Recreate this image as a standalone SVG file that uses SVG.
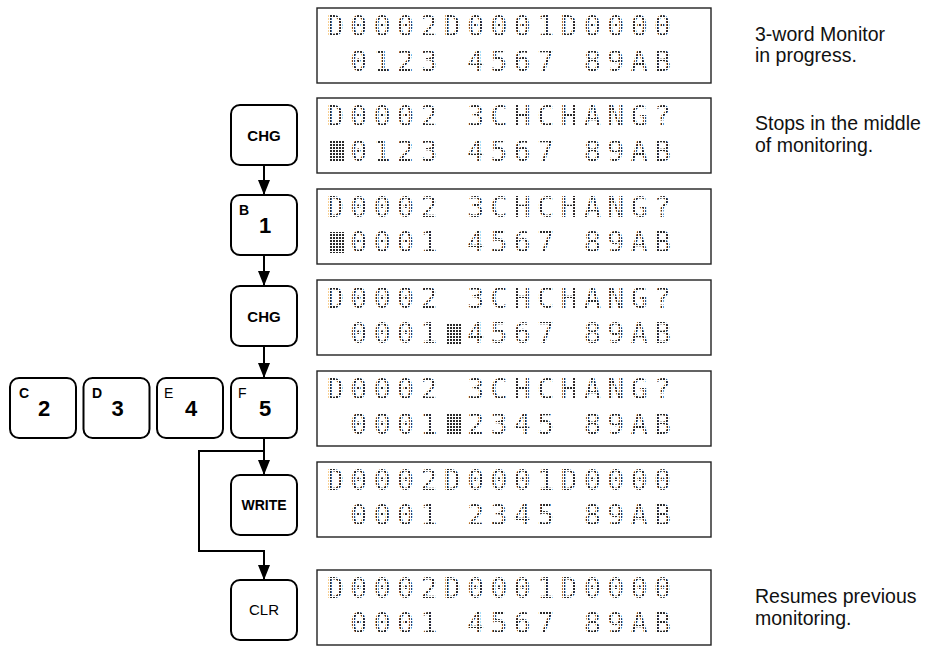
<svg xmlns="http://www.w3.org/2000/svg" width="937" height="646" viewBox="0 0 937 646">
<style>
.lcd{fill:#fff;stroke:#222;stroke-width:1.4}
.lt{font-family:"DejaVu Sans Mono","Liberation Mono",monospace;font-size:28px;letter-spacing:6.5px;fill:url(#dots);white-space:pre}
.key{fill:#fff;stroke:#000;stroke-width:2}
.kb{font-family:"Liberation Sans",Arial,sans-serif;font-weight:bold;fill:#000;text-anchor:middle}
.kr{font-family:"Liberation Sans",Arial,sans-serif;fill:#000;text-anchor:middle}
.sm{font-family:"Liberation Sans",Arial,sans-serif;font-size:14px;font-weight:bold;fill:#000}
.smr{font-family:"Liberation Sans",Arial,sans-serif;font-size:14px;fill:#000}
.dg{font-family:"Liberation Sans",Arial,sans-serif;font-size:22px;font-weight:bold;fill:#000;text-anchor:middle}
.note{font-family:"Liberation Sans",Arial,sans-serif;font-size:19.5px;fill:#111}
.con{fill:none;stroke:#000;stroke-width:2}
.cur{fill:url(#dots)}
</style>
<defs>
<pattern id="dots" patternUnits="userSpaceOnUse" width="3" height="3" x="0" y="0">
<rect x="0" y="0" width="2" height="2" fill="#2a2a2a"/>
</pattern>
<marker id="ah" viewBox="0 0 15 12" refX="15" refY="6" markerWidth="15" markerHeight="12" markerUnits="userSpaceOnUse" orient="auto">
<path d="M0,0 L15,6 L0,12 z" fill="#000"/>
</marker>
</defs>

<g id="lcd1">
<rect class="lcd" x="317" y="8" width="394" height="75"/>
<text class="lt" x="327" y="36" xml:space="preserve">D0002D0001D0000</text>
<text class="lt" x="327" y="71" xml:space="preserve"> 0123 4567 89AB</text>
</g>
<g id="lcd2">
<rect class="lcd" x="317" y="98" width="394" height="75"/>
<text class="lt" x="327" y="126" xml:space="preserve">D0002 3CHCHANG?</text>
<rect class="cur" x="330" y="141" width="15" height="21"/>
<text class="lt" x="327" y="161" xml:space="preserve"> 0123 4567 89AB</text>
</g>
<g id="lcd3">
<rect class="lcd" x="317" y="189" width="394" height="75"/>
<text class="lt" x="327" y="217" xml:space="preserve">D0002 3CHCHANG?</text>
<rect class="cur" x="330" y="232" width="15" height="21"/>
<text class="lt" x="327" y="252" xml:space="preserve"> 0001 4567 89AB</text>
</g>
<g id="lcd4">
<rect class="lcd" x="317" y="280" width="394" height="75"/>
<text class="lt" x="327" y="308" xml:space="preserve">D0002 3CHCHANG?</text>
<rect class="cur" x="447" y="323" width="15" height="21"/>
<text class="lt" x="327" y="343" xml:space="preserve"> 0001 4567 89AB</text>
</g>
<g id="lcd5">
<rect class="lcd" x="317" y="371" width="394" height="75"/>
<text class="lt" x="327" y="399" xml:space="preserve">D0002 3CHCHANG?</text>
<rect class="cur" x="447" y="414" width="15" height="21"/>
<text class="lt" x="327" y="434" xml:space="preserve"> 0001 2345 89AB</text>
</g>
<g id="lcd6">
<rect class="lcd" x="317" y="462" width="394" height="75"/>
<text class="lt" x="327" y="490" xml:space="preserve">D0002D0001D0000</text>
<text class="lt" x="327" y="525" xml:space="preserve"> 0001 2345 89AB</text>
</g>
<g id="lcd7">
<rect class="lcd" x="317" y="570" width="394" height="75"/>
<text class="lt" x="327" y="598" xml:space="preserve">D0002D0001D0000</text>
<text class="lt" x="327" y="633" xml:space="preserve"> 0001 4567 89AB</text>
</g>

<g id="notes">
<text class="note" x="755" y="41">3-word Monitor</text>
<text class="note" x="755" y="62">in progress.</text>
<text class="note" x="755" y="130">Stops in the middle</text>
<text class="note" x="755" y="152">of monitoring.</text>
<text class="note" x="755" y="603">Resumes previous</text>
<text class="note" x="755" y="625">monitoring.</text>
</g>

<g id="key-chg1">
<rect class="key" x="231" y="105" width="66" height="60" rx="9"/>
<text class="kb" x="264" y="141" font-size="15">CHG</text>
</g>
<g id="key-b1">
<rect class="key" x="231" y="195" width="66" height="60" rx="9"/>
<text class="sm" x="239" y="215">B</text>
<text class="dg" x="265" y="233">1</text>
</g>
<g id="key-chg2">
<rect class="key" x="231" y="286" width="66" height="60" rx="9"/>
<text class="kb" x="264" y="322" font-size="15">CHG</text>
</g>
<g id="key-c2">
<rect class="key" x="10" y="378" width="66" height="60" rx="9"/>
<text class="sm" x="19" y="398">C</text>
<text class="dg" x="44" y="416">2</text>
</g>
<g id="key-d3">
<rect class="key" x="83.5" y="378" width="66" height="60" rx="9"/>
<text class="sm" x="92" y="398">D</text>
<text class="dg" x="117.5" y="416">3</text>
</g>
<g id="key-e4">
<rect class="key" x="157" y="378" width="66" height="60" rx="9"/>
<text class="smr" x="164" y="398">E</text>
<text class="dg" x="191" y="416">4</text>
</g>
<g id="key-f5">
<rect class="key" x="231" y="378" width="66" height="60" rx="9"/>
<text class="smr" x="238" y="398">F</text>
<text class="dg" x="265" y="416">5</text>
</g>
<g id="key-write">
<rect class="key" x="231" y="475" width="66" height="60" rx="9"/>
<text class="kb" x="264" y="510" font-size="14">WRITE</text>
</g>
<g id="key-clr">
<rect class="key" x="231" y="580" width="66" height="60" rx="9"/>
<text class="kr" x="264" y="615" font-size="15">CLR</text>
</g>

<g id="connectors">
<line class="con" x1="264" y1="165" x2="264" y2="195" marker-end="url(#ah)"/>
<line class="con" x1="264" y1="255" x2="264" y2="286" marker-end="url(#ah)"/>
<line class="con" x1="264" y1="346" x2="264" y2="378" marker-end="url(#ah)"/>
<line class="con" x1="264" y1="438" x2="264" y2="475" marker-end="url(#ah)"/>
<path class="con" d="M264,451 H199 V551 H264 V580" marker-end="url(#ah)"/>
</g>
</svg>
